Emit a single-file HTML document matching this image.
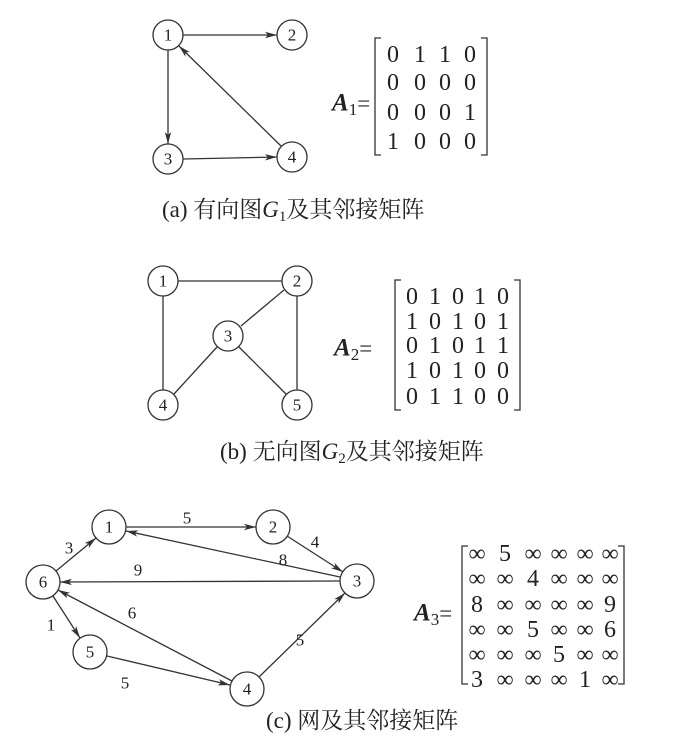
<!DOCTYPE html>
<html><head><meta charset="utf-8"><style>
body{margin:0;background:#fff;}
svg{display:block;}
text{font-family:"Liberation Serif","DejaVu Serif","Noto Serif CJK SC",serif;fill:#222;}
.n{font-size:17px;text-anchor:middle;dominant-baseline:central;}
.m{font-size:24px;text-anchor:middle;dominant-baseline:central;}
.c{font-size:23px;}
.A{font-size:25px;font-style:italic;font-weight:bold;dominant-baseline:central;}
</style></head><body>
<svg width="681" height="739" viewBox="0 0 681 739" xmlns="http://www.w3.org/2000/svg" font-family="Liberation Serif, DejaVu Serif, serif">
<defs>
<marker id="a" viewBox="0 0 12 8" refX="12" refY="4" markerWidth="12" markerHeight="8" markerUnits="userSpaceOnUse" orient="auto">
<path d="M0,0.8 L12,4 L0,7.2 L3,4 Z" fill="#333"/></marker>
</defs>
<g stroke="#333" stroke-width="1.3" fill="none">
<circle cx="168" cy="35" r="15"/><circle cx="292" cy="35" r="15"/>
<circle cx="168" cy="159" r="15"/><circle cx="292" cy="157" r="15"/>
<line x1="183" y1="35" x2="277" y2="35" marker-end="url(#a)"/>
<line x1="168" y1="50" x2="168" y2="144" marker-end="url(#a)"/>
<line x1="183" y1="159" x2="277" y2="157" marker-end="url(#a)"/>
<line x1="281" y1="146" x2="179" y2="46" marker-end="url(#a)"/>
<path d="M381,38 H375 V155 H381 M481,38 H487 V155 H481"/>
<circle cx="163" cy="281" r="15"/><circle cx="297" cy="281" r="15"/>
<circle cx="228" cy="336" r="15"/><circle cx="163" cy="405" r="15"/><circle cx="297" cy="405" r="15"/>
<line x1="178" y1="281" x2="282" y2="281"/>
<line x1="163" y1="296" x2="163" y2="390"/>
<line x1="297" y1="296" x2="297" y2="390"/>
<line x1="284" y1="290" x2="241" y2="326"/>
<line x1="217" y1="347" x2="174" y2="394"/>
<line x1="239" y1="347" x2="286" y2="394"/>
<path d="M401,280 H395 V410 H401 M514,280 H520 V410 H514"/>
<circle cx="109" cy="527" r="17"/><circle cx="273" cy="527" r="17"/>
<circle cx="357" cy="581" r="17"/><circle cx="43" cy="582" r="17"/>
<circle cx="90" cy="652" r="17"/><circle cx="247" cy="689" r="17"/>
<line x1="126" y1="527" x2="256" y2="527" marker-end="url(#a)"/>
<line x1="287" y1="536" x2="343" y2="572" marker-end="url(#a)"/>
<line x1="340" y1="577" x2="126" y2="531" marker-end="url(#a)"/>
<line x1="340" y1="581" x2="60" y2="582" marker-end="url(#a)"/>
<line x1="56" y1="571" x2="96" y2="538" marker-end="url(#a)"/>
<line x1="53" y1="596" x2="80" y2="638" marker-end="url(#a)"/>
<line x1="107" y1="656" x2="230" y2="685" marker-end="url(#a)"/>
<line x1="232" y1="681" x2="58" y2="590" marker-end="url(#a)"/>
<line x1="259" y1="677" x2="345" y2="593" marker-end="url(#a)"/>
<path d="M468,546 H462 V684 H468 M618,546 H624 V684 H618"/>
</g>
<text class="n" x="168" y="35">1</text><text class="n" x="292" y="35">2</text>
<text class="n" x="168" y="159">3</text><text class="n" x="292" y="157">4</text>
<text class="n" x="163" y="281">1</text><text class="n" x="297" y="281">2</text>
<text class="n" x="228" y="336">3</text><text class="n" x="163" y="405">4</text><text class="n" x="297" y="405">5</text>
<text class="n" x="109" y="527">1</text><text class="n" x="273" y="527">2</text>
<text class="n" x="357" y="581">3</text><text class="n" x="43" y="582">6</text>
<text class="n" x="90" y="652">5</text><text class="n" x="247" y="689">4</text>
<text class="n" x="187" y="518">5</text><text class="n" x="315" y="542">4</text>
<text class="n" x="283" y="560">8</text><text class="n" x="138" y="570">9</text>
<text class="n" x="69" y="548">3</text><text class="n" x="51" y="625">1</text>
<text class="n" x="132" y="613">6</text><text class="n" x="300" y="640">5</text>
<text class="n" x="125" y="683">5</text>
<text class="A" x="332" y="103">A<tspan style="font-size:17px;font-weight:normal;font-style:normal" dy="6">1</tspan><tspan dy="-6" style="font-weight:normal;font-style:normal;font-size:23px">=</tspan></text>
<text class="m" x="393" y="55">0</text><text class="m" x="420" y="55">1</text><text class="m" x="445" y="55">1</text><text class="m" x="470" y="55">0</text>
<text class="m" x="393" y="83">0</text><text class="m" x="420" y="83">0</text><text class="m" x="445" y="83">0</text><text class="m" x="470" y="83">0</text>
<text class="m" x="393" y="113">0</text><text class="m" x="420" y="113">0</text><text class="m" x="445" y="113">0</text><text class="m" x="470" y="113">1</text>
<text class="m" x="393" y="142">1</text><text class="m" x="420" y="142">0</text><text class="m" x="445" y="142">0</text><text class="m" x="470" y="142">0</text>
<text class="A" x="334" y="348">A<tspan style="font-size:17px;font-weight:normal;font-style:normal" dy="6">2</tspan><tspan dy="-6" style="font-weight:normal;font-style:normal;font-size:23px">=</tspan></text>
<text class="m" x="412" y="297">0</text><text class="m" x="435" y="297">1</text><text class="m" x="458" y="297">0</text><text class="m" x="480" y="297">1</text><text class="m" x="503" y="297">0</text>
<text class="m" x="412" y="322">1</text><text class="m" x="435" y="322">0</text><text class="m" x="458" y="322">1</text><text class="m" x="480" y="322">0</text><text class="m" x="503" y="322">1</text>
<text class="m" x="412" y="346">0</text><text class="m" x="435" y="346">1</text><text class="m" x="458" y="346">0</text><text class="m" x="480" y="346">1</text><text class="m" x="503" y="346">1</text>
<text class="m" x="412" y="371">1</text><text class="m" x="435" y="371">0</text><text class="m" x="458" y="371">1</text><text class="m" x="480" y="371">0</text><text class="m" x="503" y="371">0</text>
<text class="m" x="412" y="397">0</text><text class="m" x="435" y="397">1</text><text class="m" x="458" y="397">1</text><text class="m" x="480" y="397">0</text><text class="m" x="503" y="397">0</text>
<text class="A" x="414" y="613">A<tspan style="font-size:17px;font-weight:normal;font-style:normal" dy="6">3</tspan><tspan dy="-6" style="font-weight:normal;font-style:normal;font-size:23px">=</tspan></text>
<g>
<text class="m" x="477" y="554" font-size="18">∞</text><text class="m" x="505" y="554">5</text><text class="m" x="533" y="554" font-size="18">∞</text><text class="m" x="559" y="554" font-size="18">∞</text><text class="m" x="585" y="554" font-size="18">∞</text><text class="m" x="610" y="554" font-size="18">∞</text>
<text class="m" x="477" y="579" font-size="18">∞</text><text class="m" x="505" y="579" font-size="18">∞</text><text class="m" x="533" y="579">4</text><text class="m" x="559" y="579" font-size="18">∞</text><text class="m" x="585" y="579" font-size="18">∞</text><text class="m" x="610" y="579" font-size="18">∞</text>
<text class="m" x="477" y="605">8</text><text class="m" x="505" y="605" font-size="18">∞</text><text class="m" x="533" y="605" font-size="18">∞</text><text class="m" x="559" y="605" font-size="18">∞</text><text class="m" x="585" y="605" font-size="18">∞</text><text class="m" x="610" y="605">9</text>
<text class="m" x="477" y="630" font-size="18">∞</text><text class="m" x="505" y="630" font-size="18">∞</text><text class="m" x="533" y="630">5</text><text class="m" x="559" y="630" font-size="18">∞</text><text class="m" x="585" y="630" font-size="18">∞</text><text class="m" x="610" y="630">6</text>
<text class="m" x="477" y="655" font-size="18">∞</text><text class="m" x="505" y="655" font-size="18">∞</text><text class="m" x="533" y="655" font-size="18">∞</text><text class="m" x="559" y="655">5</text><text class="m" x="585" y="655" font-size="18">∞</text><text class="m" x="610" y="655" font-size="18">∞</text>
<text class="m" x="477" y="680">3</text><text class="m" x="505" y="680" font-size="18">∞</text><text class="m" x="533" y="680" font-size="18">∞</text><text class="m" x="559" y="680" font-size="18">∞</text><text class="m" x="585" y="680">1</text><text class="m" x="610" y="680" font-size="18">∞</text>
</g>
<text class="c" x="162" y="217">(a) 有向图<tspan font-style="italic">G</tspan><tspan font-size="15" dy="4">1</tspan><tspan dy="-4">及其邻接矩阵</tspan></text>
<text class="c" x="220" y="459">(b) 无向图<tspan font-style="italic">G</tspan><tspan font-size="15" dy="4">2</tspan><tspan dy="-4">及其邻接矩阵</tspan></text>
<text class="c" x="266" y="728">(c) 网及其邻接矩阵</text>
</svg>
</body></html>
